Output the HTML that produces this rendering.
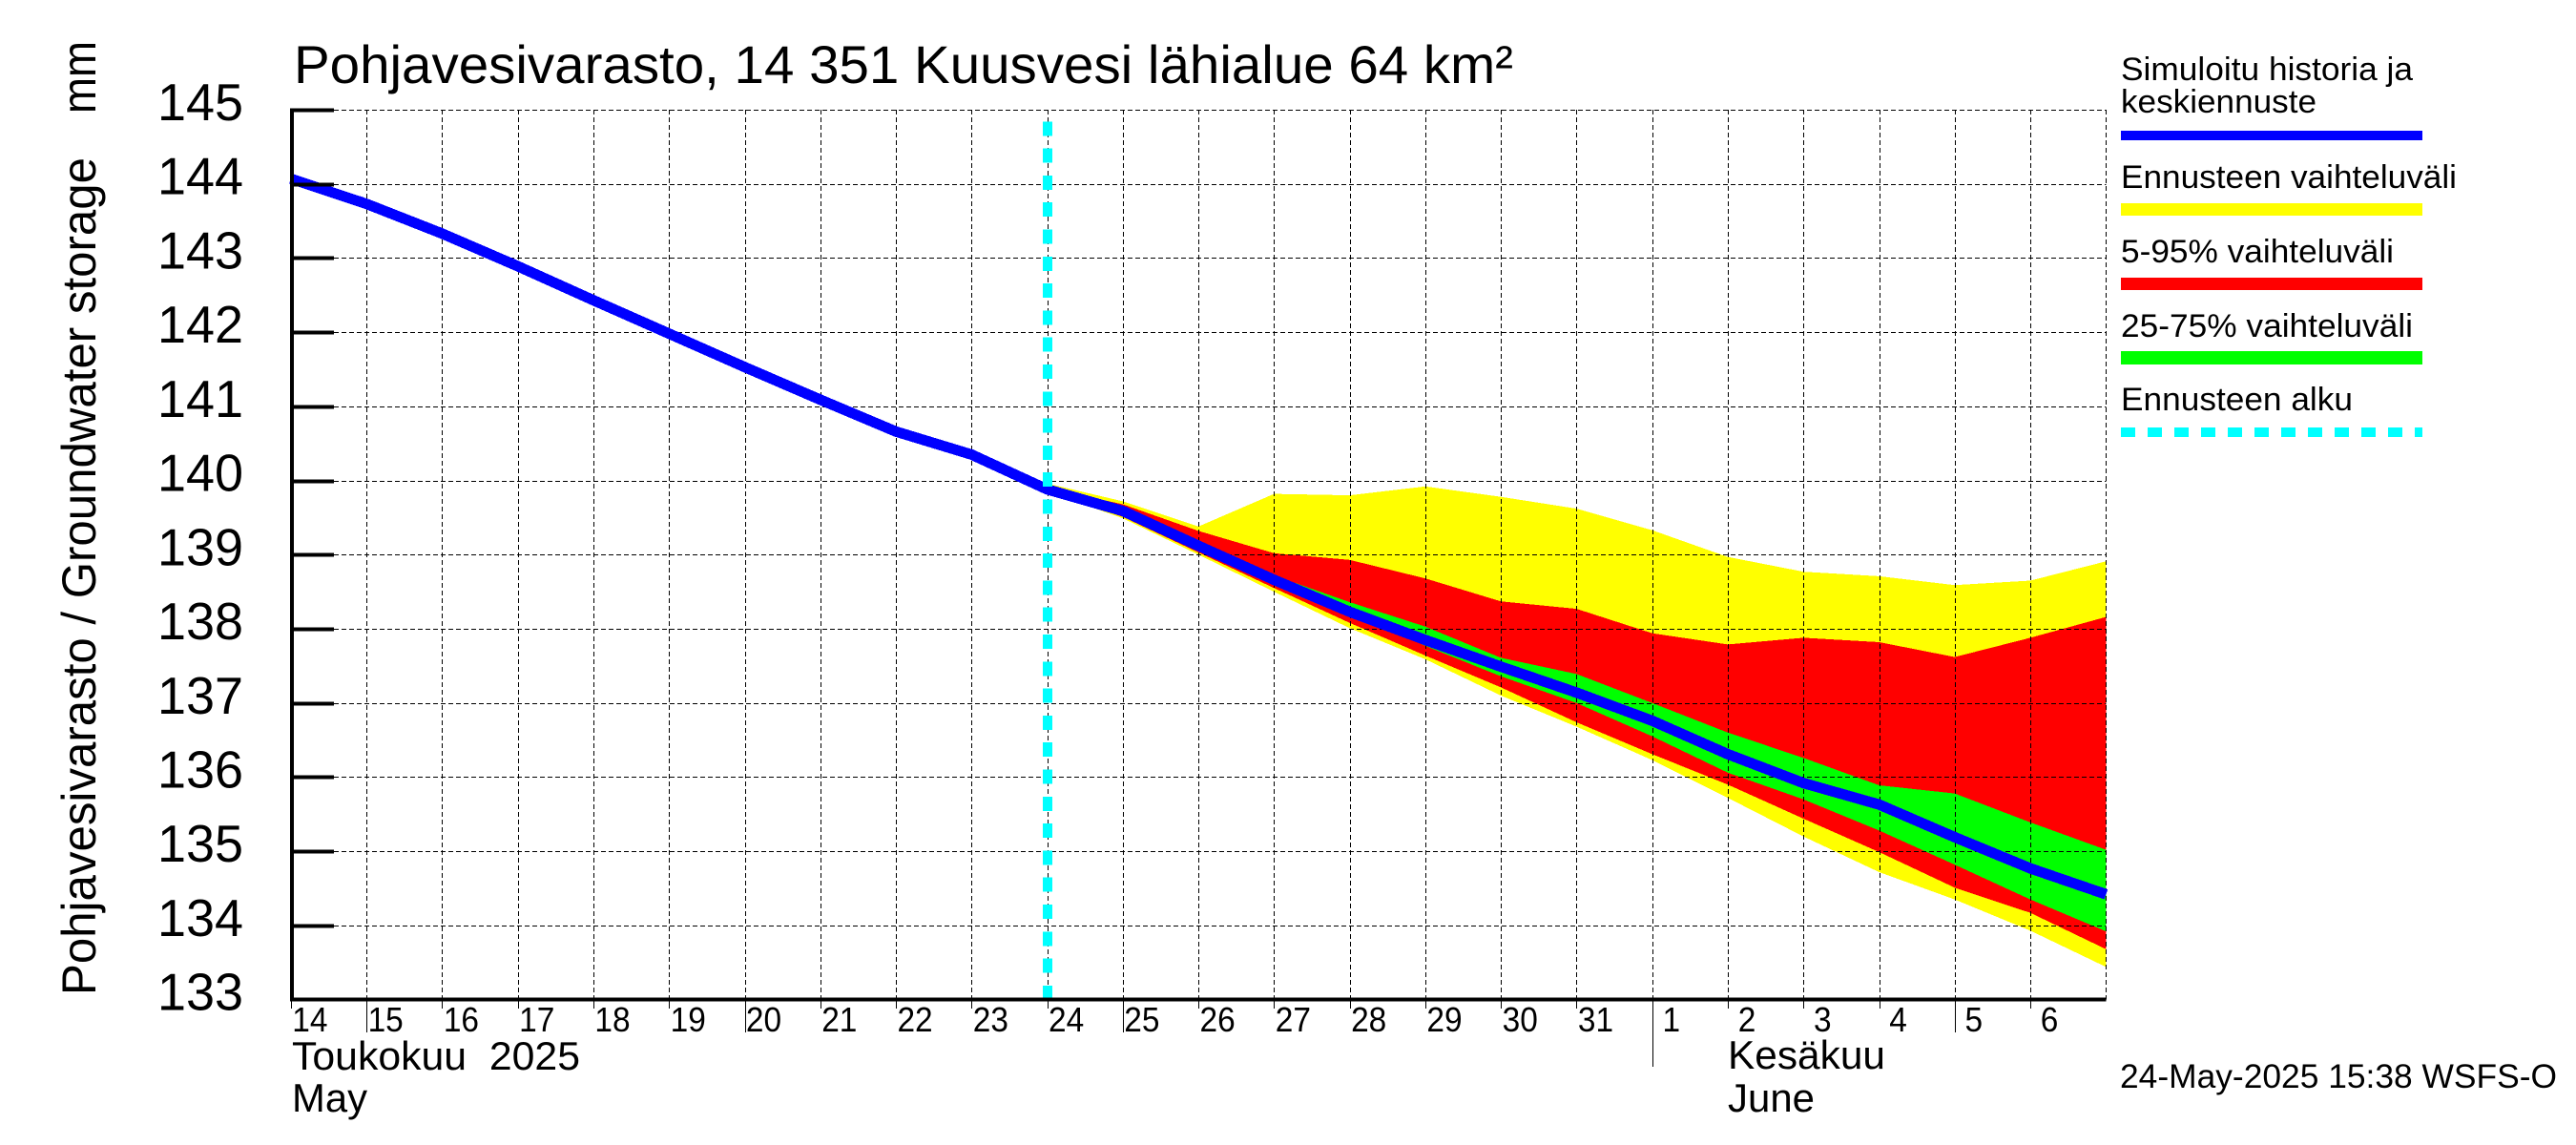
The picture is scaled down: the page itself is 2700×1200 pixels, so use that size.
<!DOCTYPE html>
<html lang="fi">
<head>
<meta charset="utf-8">
<title>Pohjavesivarasto, 14 351 Kuusvesi lähialue 64 km²</title>
<style>
html,body{margin:0;padding:0;background:#fff;width:2700px;height:1200px;overflow:hidden}
svg{display:block;font-family:"Liberation Sans",sans-serif;fill:#000}
.crisp{shape-rendering:crispEdges}
</style>
</head>
<body>
<svg id="chart" xmlns="http://www.w3.org/2000/svg" width="2700" height="1200" viewBox="0 0 2700 1200">
  <rect x="0" y="0" width="2700" height="1200" fill="#fff"/>

  <g id="bands" class="crisp"></g>
  <g id="grid" class="crisp"></g>
  <g id="series" class="crisp"></g>
  <g id="axes" class="crisp"></g>
  <g id="ylabels"></g>
  <g id="xlabels"></g>

  <text x="308" y="87" font-size="56" textLength="1278" lengthAdjust="spacingAndGlyphs">Pohjavesivarasto, 14 351 Kuusvesi lähialue 64 km²</text>
  <text transform="translate(100,1043) rotate(-90)" font-size="50" textLength="878" lengthAdjust="spacingAndGlyphs">Pohjavesivarasto / Groundwater storage</text>
  <text transform="translate(100,119) rotate(-90)" font-size="50" textLength="76" lengthAdjust="spacingAndGlyphs">mm</text>

  <text x="306" y="1121" font-size="42" textLength="302" lengthAdjust="spacingAndGlyphs" xml:space="preserve">Toukokuu  2025</text>
  <text x="306" y="1165" font-size="42" textLength="79" lengthAdjust="spacingAndGlyphs">May</text>
  <text x="1811" y="1120" font-size="42" textLength="165" lengthAdjust="spacingAndGlyphs">Kesäkuu</text>
  <text x="1811" y="1165" font-size="42" textLength="91" lengthAdjust="spacingAndGlyphs">June</text>

  <text x="2222" y="1140" font-size="35" textLength="458" lengthAdjust="spacingAndGlyphs">24-May-2025 15:38 WSFS-O</text>

  <g>
    <text x="2223" y="84" font-size="34" textLength="306" lengthAdjust="spacingAndGlyphs">Simuloitu historia ja</text>
    <text x="2223" y="118" font-size="34" textLength="205" lengthAdjust="spacingAndGlyphs">keskiennuste</text>
    <rect x="2223" y="137" width="316" height="10" fill="#0000ff"/>
    <text x="2223" y="197" font-size="34" textLength="352" lengthAdjust="spacingAndGlyphs">Ennusteen vaihteluväli</text>
    <rect x="2223" y="213" width="316" height="13" fill="#ffff00"/>
    <text x="2223" y="275" font-size="34" textLength="286" lengthAdjust="spacingAndGlyphs">5-95% vaihteluväli</text>
    <rect x="2223" y="291" width="316" height="13" fill="#ff0000"/>
    <text x="2223" y="353" font-size="34" textLength="306" lengthAdjust="spacingAndGlyphs">25-75% vaihteluväli</text>
    <rect x="2223" y="368" width="316" height="14" fill="#00ff00"/>
    <text x="2223" y="430" font-size="34" textLength="243" lengthAdjust="spacingAndGlyphs">Ennusteen alku</text>
    <line class="crisp" x1="2223" y1="453" x2="2539" y2="453" stroke="#00ffff" stroke-width="10" stroke-dasharray="15 13"/>
  </g>
</svg>

<script>
// ---- chart data ----
const dayLabels = ["14","15","16","17","18","19","20","21","22","23","24","25","26","27","28","29","30","31","1","2","3","4","5","6"];
const longTickDays = ["15","20","25","5"];
const monthStartDay = "1";
const yTicks = [145,144,143,142,141,140,139,138,137,136,135,134,133];
const forecastStartIndex = 10;
const bandStartIndex = 9;

const simulated = [144.07,143.73,143.33,142.89,142.43,141.98,141.53,141.09,140.66,140.35,139.88,139.59,139.12,138.66,138.23,137.85,137.49,137.14,136.76,136.31,135.92,135.63,135.19,134.77,134.42];
const rangeUpper = [140.33,139.96,139.72,139.38,139.82,139.80,139.92,139.78,139.62,139.33,138.97,138.77,138.71,138.59,138.65,138.91];
const rangeLower = [140.33,139.85,139.49,139.00,138.50,138.01,137.59,137.10,136.68,136.23,135.72,135.20,134.72,134.35,133.93,133.44];
const p95 = [140.33,139.90,139.68,139.32,139.02,138.93,138.68,138.37,138.27,137.94,137.79,137.88,137.82,137.62,137.88,138.16];
const p05 = [140.33,139.85,139.51,139.03,138.55,138.08,137.64,137.21,136.74,136.31,135.90,135.44,134.99,134.51,134.17,133.68];
const p75 = [140.33,139.88,139.60,139.14,138.72,138.36,138.03,137.61,137.39,137.00,136.60,136.26,135.89,135.78,135.39,135.02];
const p25 = [140.33,139.88,139.58,139.10,138.62,138.20,137.77,137.36,137.00,136.55,136.06,135.70,135.28,134.82,134.35,133.92];

// ---- axis functions ----
const NS = "http://www.w3.org/2000/svg";
const xAt = i => 304.9 + 79.27 * i;
const yAt = v => 115 + (145 - v) * 77.72;
const plotTop = yAt(145);
const plotBottom = yAt(133);
const plotRight = xAt(dayLabels.length);

function mk(parent, tag, attrs, text) {
  const el = document.createElementNS(NS, tag);
  for (const k in attrs) el.setAttribute(k, attrs[k]);
  if (text !== undefined) el.textContent = text;
  parent.appendChild(el);
  return el;
}

const bandsG = document.getElementById("bands");
const gridG = document.getElementById("grid");
const seriesG = document.getElementById("series");
const axesG = document.getElementById("axes");
const yLabG = document.getElementById("ylabels");
const xLabG = document.getElementById("xlabels");

function bandPoints(upper, lower) {
  const top = upper.map((v, k) => xAt(bandStartIndex + k).toFixed(1) + "," + yAt(v).toFixed(1));
  const bot = lower.map((v, k) => xAt(bandStartIndex + k).toFixed(1) + "," + yAt(v).toFixed(1)).reverse();
  return top.concat(bot).join(" ");
}

// bands
const yellowBand = mk(bandsG, "polygon", {points: bandPoints(rangeUpper, rangeLower), fill: "#ffff00"});


const redBand = mk(bandsG, "polygon", {points: bandPoints(p95, p05), fill: "#ff0000"});


const greenBand = mk(bandsG, "polygon", {points: bandPoints(p75, p25), fill: "#00ff00"});



// horizontal grid, ticks, labels
yTicks.forEach(v => {
  const y = Math.round(yAt(v));
  if (v !== 133) {
    const g = mk(gridG, "line", {x1: 350, y1: y + 0.5, x2: plotRight, y2: y + 0.5, stroke: "#000", "stroke-width": 1, "stroke-dasharray": "5 3"});
    
    
    const t = mk(axesG, "rect", {x: 305, y: y - 1.5, width: 45, height: 4, fill: "#000"});
    
    
  }
  const lab = mk(yLabG, "text", {x: 165, y: yAt(v) + 11, "font-size": 55, textLength: 90, lengthAdjust: "spacingAndGlyphs"}, String(v));
  
  
});

// vertical grid, ticks, labels
for (let i = 1; i <= dayLabels.length; i++) {
  const x = Math.round(xAt(i)) + 0.5;
  const g = mk(gridG, "line", {x1: x, y1: plotTop, x2: x, y2: plotBottom, stroke: "#000", "stroke-width": 1, "stroke-dasharray": "5 3"});
  
  
}
dayLabels.forEach((d, i) => {
  const x = Math.round(xAt(i)) + 0.5;
  let end = 1057;
  if (longTickDays.includes(d)) end = 1082;
  if (d === monthStartDay) end = 1118;
  const t = mk(axesG, "line", {x1: x, y1: plotBottom, x2: x, y2: end, stroke: "#000", "stroke-width": 1});
  
  
  const lab = mk(xLabG, "text", {x: xAt(i) + 20, y: 1081, "font-size": 36, "text-anchor": "middle", textLength: d.length * 18.6, lengthAdjust: "spacingAndGlyphs"}, d);
  
  
});

// axes
const yAxis = mk(axesG, "rect", {x: 304, y: plotTop - 1.5, width: 4, height: plotBottom - plotTop + 3.5, fill: "#000"});


const xAxis = mk(axesG, "rect", {x: 304, y: plotBottom - 2, width: plotRight - 304, height: 4, fill: "#000"});



// simulated history and mean forecast
const blue = mk(seriesG, "polyline", {
  points: simulated.map((v, i) => xAt(i).toFixed(1) + "," + yAt(v).toFixed(1)).join(" "),
  fill: "none", stroke: "#0000ff", "stroke-width": 11, "stroke-linejoin": "round"
});



// forecast start marker
const startX = xAt(forecastStartIndex) + 0.4;
const cyan = mk(seriesG, "line", {x1: startX, y1: 127.3, x2: startX, y2: plotBottom - 2, stroke: "#00ffff", "stroke-width": 10, "stroke-dasharray": "15 13.3"});


</script>
</body>
</html>
